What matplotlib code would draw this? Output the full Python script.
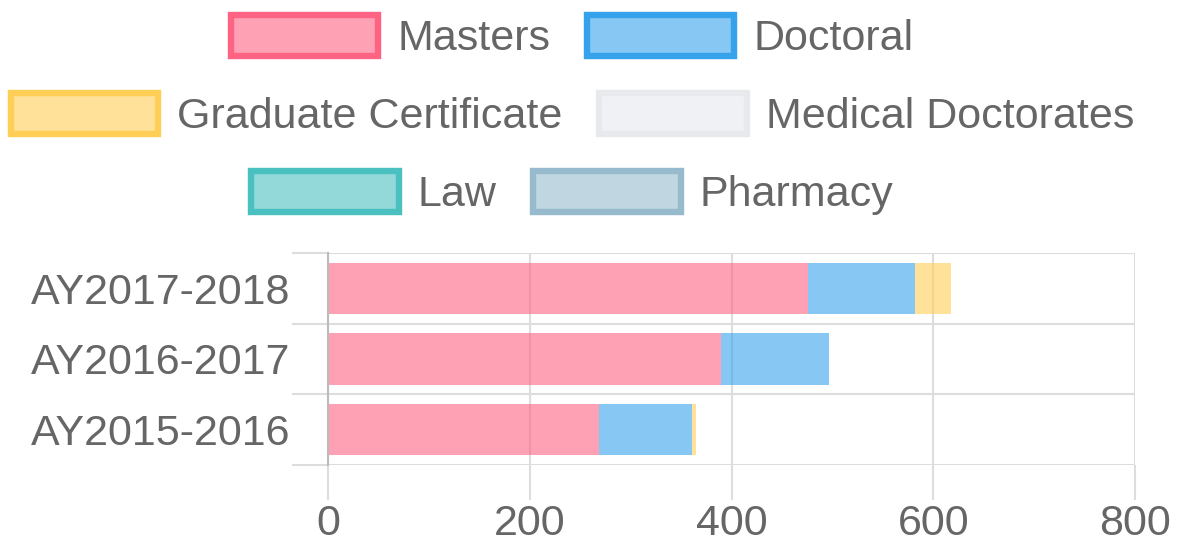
import matplotlib.pyplot as plt
from matplotlib.patches import Patch
import numpy as np

# datos (de abajo hacia arriba)
years = ['AY2015-2016', 'AY2016-2017', 'AY2017-2018']
masters = [269, 390, 476]
doctoral = [92, 107, 106]
grad_cert = [4, 0, 36]
medical = [0, 0, 0]
law = [0, 0, 0]
pharmacy = [0, 0, 0]

series = ['Masters', 'Doctoral', 'Graduate Certificate', 'Medical Doctorates', 'Law', 'Pharmacy']
values = [masters, doctoral, grad_cert, medical, law, pharmacy]
borders = ['#FF6384', '#36A2EB', '#FFCE56', '#E7E9ED', '#4BC0C0', '#97BBCD']
x_ticks = [0, 200, 400, 600, 800]

def rgba(hexc, a):
    h = hexc.lstrip('#')
    return tuple(int(h[i:i + 2], 16) / 255 for i in (0, 2, 4)) + (a,)

plt.rcParams['font.family'] = ['Liberation Sans', 'DejaVu Sans']
txt = '#666666'
fs = 31
grid_c = '#DDDDDD'

fig = plt.figure(figsize=(11.79, 5.44), dpi=100)
ax = fig.add_axes([328 / 1179, 1 - 465 / 544, (1135 - 328) / 1179, (465 - 253) / 544])

y = np.arange(len(years))
left = np.zeros(len(years))
for name, vals, bc in zip(series, values, borders):
    ax.barh(y, vals, left=left, height=0.73, color=rgba(bc, 0.6), linewidth=0, zorder=2)
    left += np.array(vals)

ax.set_xlim(0, 800)
ax.set_ylim(-0.5, 2.5)
ax.set_xticks(x_ticks)
ax.set_yticks(y)
ax.set_yticklabels(years)
ax.set_yticks([-0.5, 0.5, 1.5, 2.5], minor=True)

for s in ax.spines.values():
    s.set_visible(False)
ax.spines['left'].set_visible(True)
ax.spines['left'].set_color('#BBBBBB')
ax.spines['left'].set_linewidth(1.5)
ax.spines['left'].set_zorder(3)

ax.grid(axis='x', which='major', color=grid_c, linewidth=1.5, zorder=1)
ax.grid(axis='y', which='minor', color=grid_c, linewidth=1.5, zorder=1)
ax.set_axisbelow(True)

ax.tick_params(axis='x', which='major', length=25, width=1.5, color=grid_c,
               labelsize=fs, labelcolor=txt, pad=3)
ax.tick_params(axis='y', which='major', length=0, labelsize=fs, labelcolor=txt, pad=27)
ax.tick_params(axis='y', which='minor', length=26, width=1.5, color=grid_c)

# leyenda en tres filas centradas
rows = [[0, 1], [2, 3], [4, 5]]
row_y = [1 - 37 / 544, 1 - 115 / 544, 1 - 193 / 544]
for idx, ry in zip(rows, row_y):
    handles = [Patch(facecolor=rgba(borders[i], 0.6), edgecolor=borders[i], linewidth=4.6)
               for i in idx]
    labels = [series[i] for i in idx]
    leg = fig.legend(handles, labels, loc='center', bbox_to_anchor=(572.5 / 1179, ry),
                     ncol=2, frameon=False, fontsize=fs, handlelength=3.42,
                     handleheight=1.08, handletextpad=0.45, columnspacing=0.85,
                     borderpad=0, borderaxespad=0)
    for t in leg.get_texts():
        t.set_color(txt)

fig.savefig('out.png', dpi=100)
